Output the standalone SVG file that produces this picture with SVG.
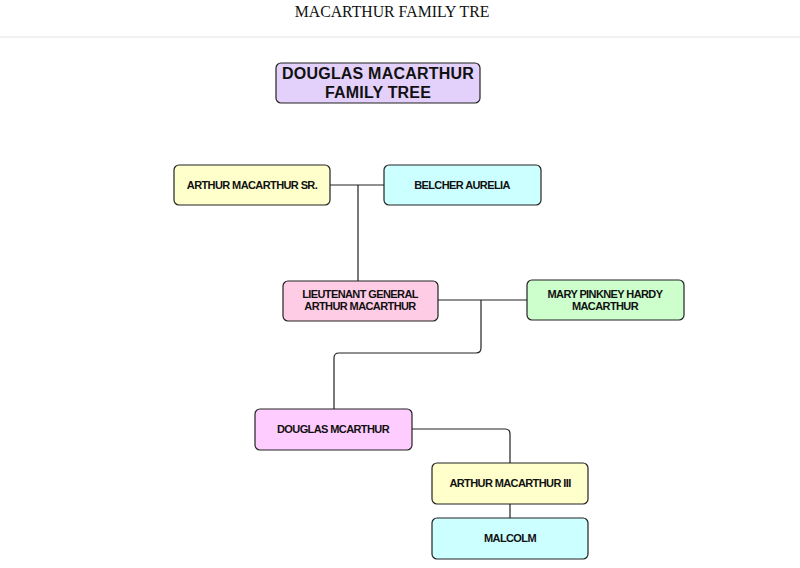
<svg xmlns="http://www.w3.org/2000/svg" width="800" height="568" viewBox="0 0 800 568">
<style>
.node rect{stroke:#222;stroke-width:1.2}
.node text{font-family:"Liberation Sans",Arial,sans-serif;font-weight:bold;font-size:11px;letter-spacing:-0.6px;fill:#111;text-anchor:middle}
#title-node text{font-size:16px;letter-spacing:0.2px}
.conn{fill:none;stroke:#222;stroke-width:1.2}
</style>
<rect x="0" y="0" width="800" height="568" fill="#fff"/>
<text x="392" y="17" font-family="Liberation Serif,'Times New Roman',serif" font-size="15.8" text-anchor="middle" fill="#111">MACARTHUR FAMILY TRE</text>
<line x1="0" y1="37" x2="800" y2="37" stroke="#eee" stroke-width="1.5"/>
<g id="connectors">
<path class="conn" d="M330 185H384M358 185V281"/>
<path class="conn" d="M438 300H527M481 300V348Q481 353 476 353H339Q334 353 334 358V409"/>
<path class="conn" d="M412 429H505Q510 429 510 434V463"/>
<path class="conn" d="M510 504V518"/>
</g>
<g id="title-node" class="node"><rect x="276" y="63" width="204" height="40" rx="5" fill="#e3d0fb"/><text x="378" y="79">DOUGLAS MACARTHUR</text><text x="378" y="98">FAMILY TREE</text></g>
<g id="arthur-sr" class="node"><rect x="174" y="165" width="156" height="40" rx="5" fill="#ffffcc"/><text x="252" y="189">ARTHUR MACARTHUR SR.</text></g>
<g id="belcher" class="node"><rect x="384" y="165" width="157" height="40" rx="5" fill="#ccffff"/><text x="462" y="189">BELCHER AURELIA</text></g>
<g id="lt-general" class="node"><rect x="283" y="281" width="155" height="40" rx="5" fill="#ffcce6"/><text x="360" y="298">LIEUTENANT GENERAL</text><text x="360" y="310">ARTHUR MACARTHUR</text></g>
<g id="mary" class="node"><rect x="527" y="280" width="157" height="40" rx="5" fill="#ccffcc"/><text x="605" y="298">MARY PINKNEY HARDY</text><text x="605" y="310">MACARTHUR</text></g>
<g id="douglas" class="node"><rect x="255" y="409" width="157" height="41" rx="5" fill="#ffccff"/><text x="333" y="433">DOUGLAS MCARTHUR</text></g>
<g id="arthur-iii" class="node"><rect x="432" y="463" width="156" height="41" rx="5" fill="#ffffcc"/><text x="510" y="487">ARTHUR MACARTHUR III</text></g>
<g id="malcolm" class="node"><rect x="432" y="518" width="156" height="41" rx="5" fill="#ccffff"/><text x="510" y="542">MALCOLM</text></g>
</svg>
